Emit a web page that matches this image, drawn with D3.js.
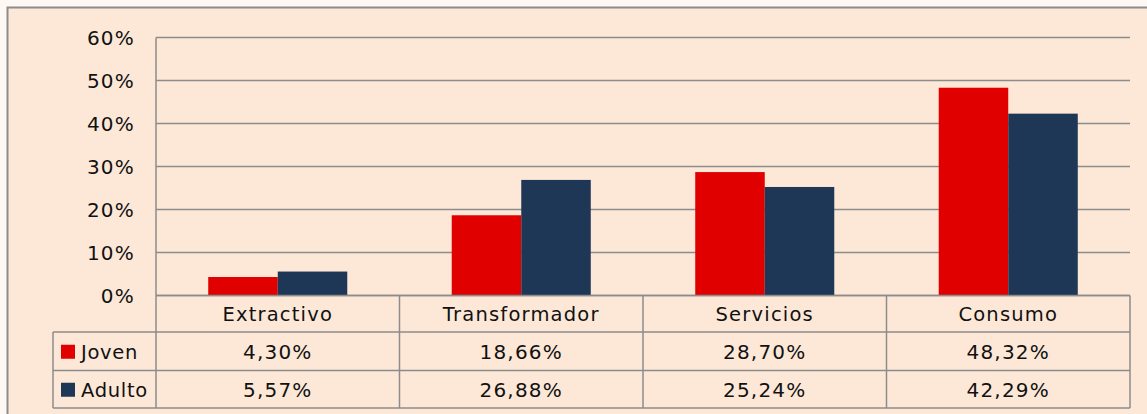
<!DOCTYPE html>
<html>
<head>
<meta charset="utf-8">
<script src="https://cdn.jsdelivr.net/npm/d3@7"></script>
<style>
  html, body { margin: 0; padding: 0; background: #fdf8f3; }
  svg { display: block; }
  text { font-family: "DejaVu Sans", sans-serif; fill: #111; letter-spacing: 1.2px; }
  text.key { letter-spacing: 0.7px; }
</style>
</head>
<body>
<svg id="chart" width="1147" height="414"></svg>
<script>
// Sector distribution by age group
const categories = ["Extractivo", "Transformador", "Servicios", "Consumo"];
const seriesNames = ["Joven", "Adulto"];
const joven = [4.30, 18.66, 28.70, 48.32];
const adulto = [5.57, 26.88, 25.24, 42.29];
const yTicks = [0, 10, 20, 30, 40, 50, 60];
const colors = ["#e00000", "#1f3756"];

const svg = d3.select("#chart");
const W = 1147, H = 414;

const plot = { left: 156, right: 1130, top: 37.5, bottom: 295.5 };
const rowBounds = [295.5, 332, 370.5, 408];
const legendLeft = 53;

const fmt = v => v.toFixed(2).replace(".", ",") + "%";

// Chart frame
svg.append("rect")
  .attr("x", 7.5).attr("y", 7.5)
  .attr("width", W + 20).attr("height", H + 20)
  .attr("fill", "#fde8d8")
  .attr("stroke", "#8c8c8c").attr("stroke-width", 2);

const x0 = d3.scaleBand().domain(categories).range([plot.left, plot.right]).paddingInner(0).paddingOuter(0);
const groupW = x0.bandwidth() * 0.571;
const x1 = d3.scaleBand().domain(seriesNames).range([0, groupW]);
const y = d3.scaleLinear().domain([0, 60]).range([plot.bottom, plot.top]);

// Gridlines
svg.append("g").selectAll("line").data(yTicks).join("line")
  .attr("x1", plot.left).attr("x2", plot.right)
  .attr("y1", d => y(d)).attr("y2", d => y(d))
  .attr("stroke", "#8c8c8c").attr("stroke-width", 1.5);

// Y axis line
svg.append("line")
  .attr("x1", plot.left).attr("x2", plot.left)
  .attr("y1", plot.top).attr("y2", rowBounds[3])
  .attr("stroke", "#8c8c8c").attr("stroke-width", 1.5);

// Y tick labels
svg.append("g").selectAll("text").data(yTicks).join("text")
  .attr("x", 135).attr("y", d => y(d))
  .attr("text-anchor", "end").attr("dominant-baseline", "central")
  .attr("font-size", 20)
  .text(d => d + "%");

// Bars
const series = [joven, adulto];
const groups = svg.append("g").selectAll("g").data(categories).join("g")
  .attr("transform", c => `translate(${x0(c) + (x0.bandwidth() - groupW) / 2},0)`);
groups.selectAll("rect")
  .data((c, i) => seriesNames.map((s, j) => ({ s, v: series[j][i], j })))
  .join("rect")
  .attr("x", d => x1(d.s))
  .attr("width", x1.bandwidth())
  .attr("y", d => y(d.v))
  .attr("height", d => y(0) - y(d.v))
  .attr("fill", d => colors[d.j]);

// Data table
const tbl = svg.append("g");
const lineColor = "#8c8c8c";
// horizontal rules
tbl.append("line").attr("x1", plot.left).attr("x2", plot.right)
  .attr("y1", rowBounds[0]).attr("y2", rowBounds[0]).attr("stroke", lineColor).attr("stroke-width", 1.5);
[1, 2, 3].forEach(k => {
  tbl.append("line").attr("x1", legendLeft).attr("x2", plot.right)
    .attr("y1", rowBounds[k]).attr("y2", rowBounds[k]).attr("stroke", lineColor).attr("stroke-width", 1.5);
});
// vertical rules
categories.forEach(c => {
  tbl.append("line").attr("x1", x0(c) + x0.bandwidth()).attr("x2", x0(c) + x0.bandwidth())
    .attr("y1", rowBounds[0]).attr("y2", rowBounds[3]).attr("stroke", lineColor).attr("stroke-width", 1.5);
});
tbl.append("line").attr("x1", legendLeft).attr("x2", legendLeft)
  .attr("y1", rowBounds[1]).attr("y2", rowBounds[3]).attr("stroke", lineColor).attr("stroke-width", 1.5);

// header row
tbl.selectAll("text.cat").data(categories).join("text").attr("class", "cat")
  .attr("x", c => x0(c) + x0.bandwidth() / 2)
  .attr("y", (rowBounds[0] + rowBounds[1]) / 2 + 1)
  .attr("text-anchor", "middle").attr("dominant-baseline", "central")
  .attr("font-size", 19.5)
  .text(c => c);

// value rows with legend keys
series.forEach((vals, j) => {
  const cy = (rowBounds[j + 1] + rowBounds[j + 2]) / 2 + 1;
  tbl.append("rect").attr("x", 61).attr("y", cy - 7.5).attr("width", 14).attr("height", 14)
    .attr("fill", colors[j]);
  tbl.append("text").attr("class", "key").attr("x", 81).attr("y", cy)
    .attr("dominant-baseline", "central").attr("font-size", 19.5)
    .text(seriesNames[j]);
  tbl.selectAll(null).data(vals).join("text")
    .attr("x", (v, i) => x0(categories[i]) + x0.bandwidth() / 2)
    .attr("y", cy)
    .attr("text-anchor", "middle").attr("dominant-baseline", "central")
    .attr("font-size", 20)
    .text(v => fmt(v));
});
</script>
</body>
</html>
